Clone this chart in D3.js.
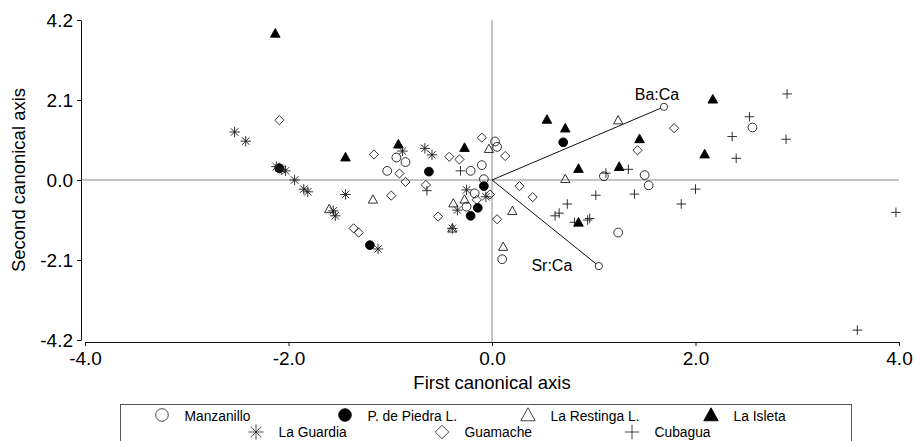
<!DOCTYPE html>
<html>
<head>
<meta charset="utf-8">
<script src="https://cdn.jsdelivr.net/npm/d3@7"></script>
<style>
  body { margin: 0; background: #fff; }
  svg { display: block; font-family: "Liberation Sans", Arial, sans-serif; }
</style>
</head>
<body>
<svg id="chart" width="915" height="441"></svg>
<script>
// Site scores on the first two canonical axes
const manzanilloX = [-0.94, -0.85, -1.03, -0.21, 0.03, 0.05, -0.10, -0.08, -0.17, -0.25, 0.10, 1.10, 1.50, 1.54, 1.24, 2.56];
const manzanilloY = [0.59, 0.47, 0.24, 0.24, 1.01, 0.87, 0.39, 0.02, -0.35, -0.70, -2.08, 0.10, 0.13, -0.14, -1.38, 1.38];

const piedraX = [-0.62, -0.08, -0.14, -0.21, -1.20, 0.70, -2.09];
const piedraY = [0.22, -0.16, -0.73, -0.94, -1.71, 0.99, 0.31];

const restingaX = [-0.03, -0.27, -0.38, -0.39, -1.17, -1.60, 0.20, 0.11, 1.24, 0.72];
const restingaY = [0.82, -0.51, -0.61, -1.27, -0.51, -0.76, -0.81, -1.75, 1.57, 0.03];

const isletaX = [-2.13, -1.44, -0.92, -0.27, 0.54, 0.72, 1.45, 0.85, 1.25, 2.09, 2.17, 0.85];
const isletaY = [3.85, 0.60, 0.94, 0.85, 1.59, 1.36, 1.08, 0.30, 0.35, 0.68, 2.12, -1.11];

const guardiaX = [-2.53, -2.42, -2.12, -2.09, -2.07, -2.03, -1.94, -1.85, -1.81, -1.44, -1.56, -1.54, -1.12, -0.88, -0.66, -0.59, -0.25, -0.34, -0.39, -0.06];
const guardiaY = [1.26, 1.02, 0.35, 0.31, 0.28, 0.24, 0.00, -0.24, -0.31, -0.38, -0.81, -0.94, -1.81, 0.76, 0.83, 0.66, -0.26, -0.79, -1.27, -0.44];

const guamacheX = [-2.09, -1.16, -0.91, -0.85, -0.65, -0.42, -0.32, -0.10, 0.13, -0.02, -0.15, -0.53, -0.99, -1.36, -1.31, 0.05, 0.27, 0.40, 1.79, 1.43];
const guamacheY = [1.57, 0.67, 0.17, -0.05, -0.13, 0.61, 0.54, 1.11, 0.63, -0.38, -0.52, -0.96, -0.41, -1.27, -1.38, -1.03, -0.16, -0.45, 1.36, 0.78];

const cubaguaX = [-0.64, -0.31, 1.12, 1.34, 1.02, 1.40, 0.74, 0.66, 0.62, 0.81, 0.94, 0.96, 2.00, 1.86, 2.36, 2.53, 2.40, 2.90, 2.89, 3.97, 3.59];
const cubaguaY = [-0.28, 0.24, 0.18, 0.28, -0.40, -0.37, -0.63, -0.87, -0.94, -1.11, -1.05, -1.01, -0.24, -0.63, 1.14, 1.66, 0.57, 2.26, 1.07, -0.85, -3.94];

// Biplot vectors for the elemental ratios
const vectorNames = ["Ba:Ca", "Sr:Ca"];
const vectorX = [1.69, 1.05];
const vectorY = [1.92, -2.26];

const xTicks = [-4, -2, 0, 2, 4];
const yTicks = [-4.2, -2.1, 0, 2.1, 4.2];

const siteNames = ["Manzanillo", "P. de Piedra L.", "La Restinga L.", "La Isleta", "La Guardia", "Guamache", "Cubagua"];
const siteShapes = ["circle", "dot", "triangle", "solidTriangle", "asterisk", "diamond", "plus"];

const groups = [
    { x: manzanilloX, y: manzanilloY },
    { x: piedraX, y: piedraY },
    { x: restingaX, y: restingaY },
    { x: isletaX, y: isletaY },
    { x: guardiaX, y: guardiaY },
    { x: guamacheX, y: guamacheY },
    { x: cubaguaX, y: cubaguaY }
].map((g, i) => ({ name: siteNames[i], shape: siteShapes[i], x: g.x, y: g.y }));

const svg = d3.select("#chart");

const x = d3.scaleLinear().domain([-4, 4]).range([85, 899]);
const y = d3.scaleLinear().domain([-4.2, 4.2]).range([340, 20]);

// marker outline for a given shape, s = half size
const markerPath = function (shape, s) {
    const p = d3.path();
    if (shape === "circle" || shape === "dot") {
        p.moveTo(s, 0);
        p.arc(0, 0, s, 0, 2 * Math.PI);
    } else if (shape === "triangle" || shape === "solidTriangle") {
        p.moveTo(0, -s);
        p.lineTo(s, s * 0.8);
        p.lineTo(-s, s * 0.8);
        p.closePath();
    } else if (shape === "diamond") {
        p.moveTo(0, -s);
        p.lineTo(s, 0);
        p.lineTo(0, s);
        p.lineTo(-s, 0);
        p.closePath();
    } else if (shape === "plus") {
        p.moveTo(-s, 0); p.lineTo(s, 0);
        p.moveTo(0, -s); p.lineTo(0, s);
    } else if (shape === "asterisk") {
        const d = s * 0.72;
        p.moveTo(-s, 0); p.lineTo(s, 0);
        p.moveTo(0, -s); p.lineTo(0, s);
        p.moveTo(-d, -d); p.lineTo(d, d);
        p.moveTo(-d, d); p.lineTo(d, -d);
    }
    return p.toString();
};
const isFilled = (shape) => shape === "dot" || shape === "solidTriangle";
const markerSize = { circle: 4.4, dot: 4.4, triangle: 4.6, solidTriangle: 4.8, diamond: 4.6, plus: 4.8, asterisk: 5.2 };

// zero reference lines
svg.append("line")
    .attr("x1", 81).attr("x2", x(4))
    .attr("y1", y(0)).attr("y2", y(0))
    .attr("stroke", "#8a8a8a").attr("stroke-width", 1);
svg.append("line")
    .attr("x1", x(0)).attr("x2", x(0))
    .attr("y1", y(4.2)).attr("y2", 342)
    .attr("stroke", "#8a8a8a").attr("stroke-width", 1);

// Axes
const fmt = (d) => d.toFixed(1);

const gy = svg.append("g")
    .attr("transform", "translate(81,0)")
    .call(d3.axisLeft(y).tickValues(yTicks).tickSize(4).tickSizeOuter(0).tickPadding(4).tickFormat(fmt));

const gx = svg.append("g")
    .attr("transform", "translate(0,342)")
    .call(d3.axisBottom(x).tickValues(xTicks).tickSize(4).tickSizeOuter(0).tickPadding(6).tickFormat(fmt));

[gx, gy].forEach((g) => {
    g.attr("font-family", null).attr("font-size", null);
    g.selectAll("path, line").attr("stroke", "#111");
    g.selectAll("text").attr("font-size", 19).attr("fill", "#000");
});

svg.append("text")
    .attr("x", x(0)).attr("y", 389)
    .attr("text-anchor", "middle")
    .attr("font-size", 18.5).attr("fill", "#000")
    .text("First canonical axis");

svg.append("text")
    .attr("transform", "translate(25," + y(0) + ") rotate(-90)")
    .attr("text-anchor", "middle")
    .attr("font-size", 18.5).attr("fill", "#000")
    .text("Second canonical axis");

// vectors
const vec = svg.append("g");
vectorNames.forEach((name, i) => {
    const ex = x(vectorX[i]), ey = y(vectorY[i]);
    vec.append("line")
        .attr("x1", x(0)).attr("y1", y(0))
        .attr("x2", ex).attr("y2", ey)
        .attr("stroke", "#111").attr("stroke-width", 1);
    vec.append("circle")
        .attr("cx", ex).attr("cy", ey).attr("r", 3.6)
        .attr("fill", "#fff").attr("stroke", "#222").attr("stroke-width", 0.9);
});
vec.append("text")
    .attr("x", x(vectorX[0]) - 7).attr("y", y(vectorY[0]) - 7)
    .attr("text-anchor", "middle").attr("font-size", 16).attr("fill", "#000")
    .text(vectorNames[0]);
vec.append("text")
    .attr("x", x(vectorX[1]) - 47).attr("y", y(vectorY[1]) + 5)
    .attr("text-anchor", "middle").attr("font-size", 16).attr("fill", "#000")
    .text(vectorNames[1]);

// points
const pts = svg.append("g");
groups.forEach((g) => {
    const data = g.x.map((v, i) => [v, g.y[i]]);
    pts.selectAll(null)
        .data(data)
        .enter().append("path")
        .attr("transform", (d) => "translate(" + x(d[0]) + "," + y(d[1]) + ")")
        .attr("d", markerPath(g.shape, markerSize[g.shape]))
        .attr("fill", isFilled(g.shape) ? "#000" : "none")
        .attr("stroke", isFilled(g.shape) ? "#000" : "#1a1a1a")
        .attr("stroke-width", 0.9);
});

// Legend
const legend = svg.append("g");
legend.append("rect")
    .attr("x", 120.5).attr("y", 404.5)
    .attr("width", 731).attr("height", 60)
    .attr("fill", "none").attr("stroke", "#555").attr("stroke-width", 1);

const legendSymX = [162, 345, 528, 711, 256, 442, 632];
const legendRow = [0, 0, 0, 0, 1, 1, 1];
const legendSize = { circle: 6.3, dot: 6.3, triangle: 7.2, solidTriangle: 7.2, diamond: 6.8, plus: 7.2, asterisk: 7.4 };

groups.forEach((g, i) => {
    const cy = legendRow[i] === 0 ? 415 : 432;
    legend.append("path")
        .attr("transform", "translate(" + legendSymX[i] + "," + cy + ")")
        .attr("d", markerPath(g.shape, legendSize[g.shape]))
        .attr("fill", isFilled(g.shape) ? "#000" : "none")
        .attr("stroke", isFilled(g.shape) ? "#000" : "#333")
        .attr("stroke-width", 0.9);
    legend.append("text")
        .attr("x", legendSymX[i] + 22.5)
        .attr("y", legendRow[i] === 0 ? 420.5 : 437)
        .attr("font-size", 13.8).attr("fill", "#000")
        .text(g.name);
});
</script>
</body>
</html>
